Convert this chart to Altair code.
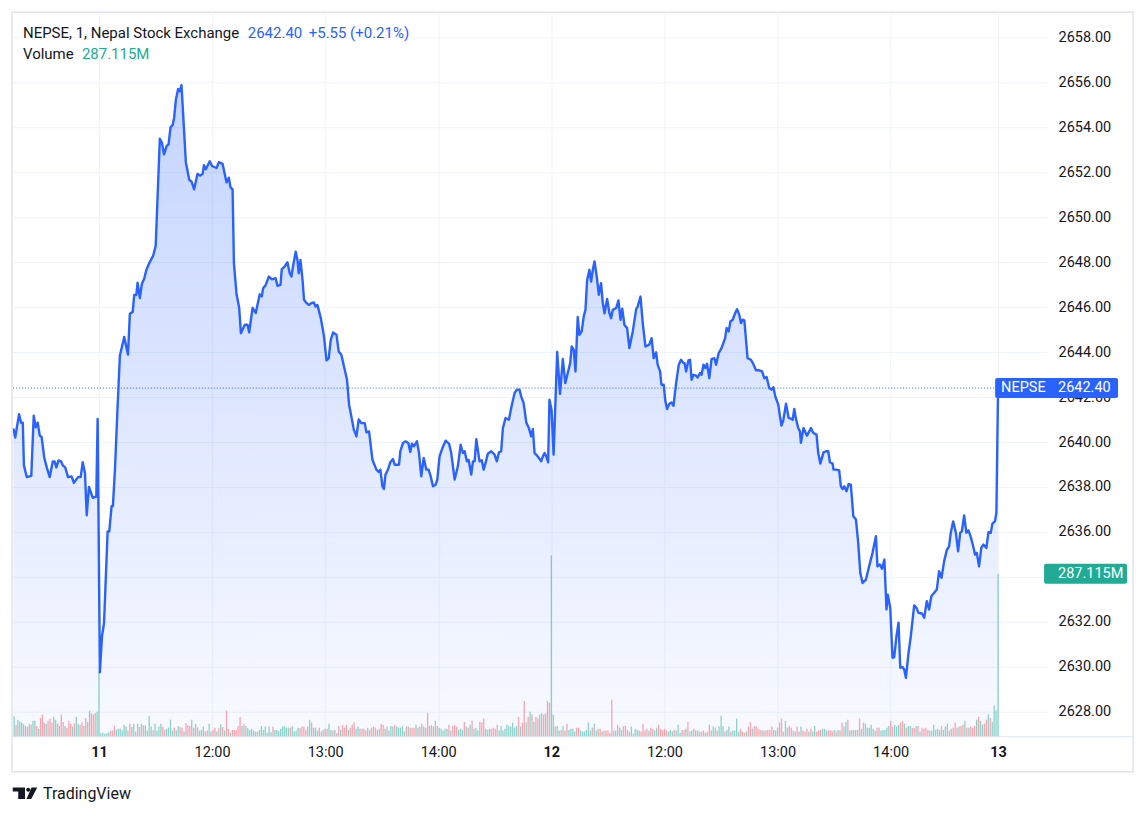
import altair as alt
import pandas as pd
import numpy as np

# ---------------- price line (session minutes from 11:00 on day 11; day 12 opens at 240) ----------------
seg1_t = [-45.4,-44.4,-42.4,-41.3,-40.4,-39.8,-38.3,-35.9,-34.6,-33.5,-32.5,-31.4,-30.4,-29.0,-27.7,-26.1,-24.5,-23.5,-22.6,-21.4,
          -20.0,-19.2,-17.9,-16.4,-14.5,-13.3,-11.1,-9.7,-8.6,-7.4,-6.5,-5.3,-3.3,-1.4,-0.7,0.5,1.6,2.7,4.6,5.5,
          6.7,7.4,8.5,9.7,11.1,13.4,15.4,16.4,17.9,18.7,19.8,20.5,21.7,22.8,24.0,25.1,26.7,28.8,30.1,32.3,
          33.4,34.5,36.0,36.9,38.0,39.1,39.9,40.8,42.0,42.9,43.8,44.7,46.1,47.9,49.1,50.5,52.3,53.7,55.0,55.7,
          56.7,58.8,60.0,62.4,63.6,65.6,67.7,68.9,69.8,70.9,71.6,73.0,74.4,75.3,77.4,78.8,79.7,81.5,83.2,85.3,86.4]
seg1_p = [2640.60,2640.20,2641.24,2640.86,2640.86,2638.96,2638.44,2638.49,2641.17,2640.65,2640.86,2640.29,2640.22,2639.30,2638.87,2638.44,2639.13,2639.13,2638.87,2639.18,
          2639.13,2638.96,2638.87,2638.44,2638.47,2638.18,2638.44,2638.44,2639.10,2638.61,2636.74,2638.00,2637.52,2637.57,2641.03,2629.76,2631.35,2631.96,2636.02,2636.02,
          2637.15,2637.15,2638.79,2641.21,2643.84,2644.67,2643.89,2645.71,2645.79,2646.54,2646.54,2647.09,2646.40,2647.04,2647.26,2647.64,2647.96,2648.30,2648.73,2653.49,
          2653.32,2652.80,2653.18,2653.23,2654.01,2654.10,2654.44,2655.22,2655.71,2655.60,2655.88,2654.53,2652.45,2651.67,2651.59,2651.24,2651.93,2651.85,2651.93,2652.31,
          2652.14,2652.49,2652.28,2652.19,2652.45,2652.37,2651.55,2651.76,2651.33,2651.24,2647.96,2646.57,2645.97,2644.84,2645.22,2645.22,2644.88,2645.97,2645.74,2646.57,2646.48]

seg2_t = [87.1,88.5,90.1,91.8,93.7,94.7,96.3,97.0,98.6,100.0,101.2,102.1,103.0,104.4,105.3,106.0,106.9,108.0,108.8,110.1,
          111.5,112.7,114.0,114.9,115.9,117.7,119.4,120.7,121.9,123.0,124.2,126.0,127.2,128.6,130.4,131.6,132.7,133.9,135.2,136.6,
          137.8,139.2,141.0,141.9,143.3,145.1,147.2,148.4,149.3,150.4,151.2,152.0,153.3,154.6,156.0,156.9,158.1,159.2,159.9,161.3,
          162.7,164.1,165.2,166.0,167.1,168.7,169.8,171.0,172.3,173.7,174.9,176.0,177.2,178.6,179.5,180.7,182.2,183.9,185.7,186.9,
          188.7,190.4,191.9,193.1,194.0,195.2,196.1,197.5,198.4,199.3,200.2,201.9,203.1,204.1,205.1,206.3,208.1,209.9,211.1,212.2,
          213.4,214.3,215.7,217.5,218.7,220.5,221.7,223.1,224.0,225.3,226.7,228.1,229.3,230.2,231.1,232.8,234.6,235.5,236.4,237.3,
          238.3,239.0,240.1,241.2,243.1,244.6]
seg2_p = [2646.84,2646.99,2647.36,2647.24,2647.29,2646.95,2646.99,2647.69,2647.81,2648.00,2647.51,2647.36,2647.84,2648.47,2648.10,2647.51,2648.10,2647.21,2646.33,2646.18,
          2646.10,2646.18,2646.21,2646.03,2646.10,2645.51,2644.70,2643.63,2643.73,2644.55,2644.87,2644.77,2644.03,2643.88,2643.21,2642.77,2641.66,2641.14,2640.55,2640.25,
          2641.00,2640.84,2640.84,2640.43,2640.47,2639.21,2638.77,2638.67,2638.77,2638.03,2637.91,2638.55,2638.77,2639.10,2639.24,2638.99,2638.99,2638.99,2639.59,2639.96,
          2640.03,2639.96,2639.56,2639.93,2639.81,2640.03,2639.51,2638.47,2639.29,2638.77,2638.77,2638.47,2638.03,2638.10,2638.33,2639.36,2639.73,2640.06,2639.93,2639.51,
          2638.33,2638.92,2639.88,2639.51,2639.59,2639.14,2639.21,2638.55,2639.14,2639.14,2640.13,2639.14,2639.19,2638.77,2639.07,2639.48,2639.59,2639.44,2639.14,2639.54,
          2639.59,2640.62,2641.07,2640.99,2641.51,2642.18,2642.33,2642.33,2642.03,2641.73,2640.87,2640.62,2640.25,2640.58,2639.51,2639.36,2639.14,2639.36,2639.51,2639.36,
          2639.10,2641.88,2641.44,2639.44,2644.01,2642.14]

seg3_t = [246.1,247.4,248.7,250.0,250.8,251.9,252.8,254.0,254.9,256.1,257.2,258.1,259.0,260.2,261.1,262.0,262.9,264.1,265.2,266.4,
          267.3,268.2,269.6,270.8,271.7,272.6,274.4,275.6,276.7,277.6,278.8,280.2,281.4,283.2,285.0,285.8,287.3,288.5,289.9,292.0,
          293.2,294.3,295.6,296.4,297.7,298.4,299.6,300.5,301.4,302.6,303.7,304.8,306.2,307.6,308.8,310.1,310.7,311.5,312.7,313.6,
          314.4,315.4,316.8,317.6,318.9,319.7,320.7,321.7,322.6,323.8,325.0,326.5,327.4,328.8,330.3,332.2,333.0,334.1,335.0,336.2,
          337.5,338.5,339.7,340.6,341.5,342.4,344.1,345.9,347.3,348.6,350.3]
seg3_p = [2643.69,2642.62,2643.07,2643.51,2644.25,2644.10,2643.14,2645.56,2644.77,2644.92,2645.59,2645.88,2647.21,2647.66,2647.14,2647.66,2648.03,2647.36,2646.55,2647.07,
          2646.18,2645.73,2646.36,2645.73,2645.51,2645.88,2645.96,2646.30,2645.44,2645.93,2645.21,2645.07,2644.18,2644.92,2645.91,2646.03,2646.47,2645.29,2644.25,2644.33,
          2644.62,2643.73,2643.99,2643.44,2643.14,2642.55,2642.55,2641.81,2641.47,2641.70,2641.76,2641.61,2642.62,2643.44,2643.66,2643.51,2643.51,2643.14,2643.63,2643.66,
          2642.77,2642.99,2642.95,2642.87,2643.07,2642.99,2643.44,2643.29,2643.48,2642.84,2643.69,2643.73,2643.44,2643.96,2644.18,2644.62,2645.07,2644.92,2645.36,2645.44,
          2645.73,2645.91,2645.66,2645.29,2645.44,2645.41,2643.73,2643.66,2643.44,2643.19,2643.19]

seg4_t = [351.8,353.0,354.2,355.6,356.8,357.8,358.8,360.4,361.3,362.1,363.1,364.5,365.9,367.1,368.0,368.9,369.8,371.0,371.9,372.4,
          373.8,375.6,377.7,379.0,380.7,381.6,382.7,384.4,385.7,386.9,387.8,389.2,389.7,391.0,392.7,393.6,394.5,395.4,396.6,397.7,
          398.9,400.2,401.6,402.8,403.9,405.1,406.9,408.6,410.4,412.2,413.0,414.3,415.4,416.7,417.8,418.5,419.8,421.0,421.9,423.1,
          424.2,425.1,426.3,427.2,428.1,429.5,430.7,432.5,433.7,434.8,436.6,437.8,439.2,440.4,441.6,443.1,444.5,445.7,447.0,448.4,
          449.8,451.0,451.9,453.2,454.6,455.8,456.9,457.8,459.0,460.2,461.3,462.5,463.8,464.8,465.7,466.9,468.1,469.2,470.8,471.9,
          473.1,474.0,475.3,476.1,477.0]
seg4_p = [2643.14,2642.84,2642.89,2642.40,2642.33,2642.44,2642.03,2641.66,2641.14,2640.73,2640.99,2641.70,2641.07,2641.04,2640.99,2641.47,2641.02,2640.62,2640.47,2639.96,
          2640.62,2640.28,2640.62,2640.40,2640.33,2639.51,2639.04,2639.54,2639.59,2639.59,2639.10,2639.04,2638.77,2638.77,2638.74,2638.03,2637.91,2638.03,2637.81,2638.13,
          2638.10,2636.70,2636.55,2635.51,2634.18,2633.73,2633.88,2634.47,2635.07,2635.81,2634.47,2634.55,2634.36,2634.77,2632.55,2633.21,2632.62,2630.40,2630.43,2631.36,
          2631.96,2629.96,2629.99,2629.88,2629.51,2630.62,2631.36,2632.73,2632.62,2632.40,2632.37,2632.18,2632.92,2632.55,2633.14,2633.29,2633.44,2634.25,2633.96,2634.70,
          2635.19,2635.36,2635.96,2636.47,2635.96,2635.14,2635.96,2636.03,2636.73,2635.96,2636.07,2635.78,2635.36,2634.99,2635.07,2634.47,2635.29,2635.44,2635.29,2635.99,
          2635.96,2636.37,2636.47,2636.84,2642.40]

# ---------------- volume (millions), one bar per traded minute ----------------
vol_a = [36,21,30,27,25,22,19,18,22,21, 28,28,19,14,33,39,25,23,28,32, 25,35,30,23,19,39,26,19,16,28,
         23,18,24,35,22,21,25,19,33,26, 46,41,39,42,44,115,6,7,5,6, 8,10,11,19,12,14,14,11,21,18,
         11,23,17,23,9,23,17,23,20,20, 11,37,18,12,23,11,18,23,18,12, 14,16,30,11,16,11,19,17,16,9,
         24,20,19,30,16,23,16,11,12,18, 9,11,23,9,12,16,9,15,22,17, 11,46,14,7,12,12,12,19,35,19,
         23,19,15,12,14,11,9,9,12,19, 12,18,7,18,8,18,12,12,10,14, 18,19,16,16,16,19,9,11,16,15,
         18,18,12,18,30,25,16,16,11,16, 9,12,14,14,23,12,11,12,6,19,12]
col_a = ("GRGGGGRRGR" "GGRGRRRGRR" "RGGRGRRGRR" "RGRGGRRGRR" "GRRRGGGGGG" "GRRRGGGGGG"
         "RRGGRGRGRG" "GGGRGGGGRR" "GGGGRGGRRG" "RRRGRGRGGG" "RRGGRRGRGR" "GRRGRRRRRG"
         "RGGGGGRRGG" "GGGGGRGGGG" "GGGGRGGGGR" "RRRGGRGGGR" "RGRRGGRGRRG")
vol_b = [21,16,21,12,16,21,25,14,18,14, 14,14,11,16,12,16,18,16,12,14, 23,21,14,18,11,19,18,21,18,16,
         16,19,9,18,18,16,16,16,21,16, 18,23,18,16,42,19,21,18,28,19, 16,14,11,14,14,21,11,19,21,18,
         12,14,12,26,18,16,21,28,14,16, 11,26,25,32,14,12,14,14,16,14, 21,11,19,11,14,21,19,18,25,16,
         19,35,18,25,63,25,35,44,39,26, 35,32,39,42,39,41,63,60,320,39, 18,19,11,12,19,11,23,12,14,14,
         9,16,16,11,9,9,12,25,11,16, 23,11,14,14,9,11,11,11,7,65, 11,11,21,16,12,19,19,12,9,18,
         5,14,12,11,9,23,11,14,11,16, 14,11,16,21,14,12,14,11,9,12,9]
col_b = ("RRRGRRRGGR" "RRRGRRRRRG" "RRGRGGGRGG" "GGGRGRRRGR" "GRGRRGRRGR" "GGGGGRGRRR"
         "GGGRGRGRGG" "GRRRGGGRRR" "RGGGGGGGGG" "GRGRRGRGRG" "RRGRRGRRGG" "RGGRGRRGGG"
         "GRRGGGGGGR" "GGRRGRRRRR" "GGRGGRRRRG" "GGGGRRRRGR" "RGGRRRRRGGG")
vol_c = [12,11,21,7,12,12,14,26,9,11, 14,11,11,9,9,11,7,9,21,11, 18,16,11,18,37,19,9,12,18,9,
         11,11,32,9,14,9,7,9,18,26, 14,18,19,14,12,11,11,11,12,12, 18,12,11,16,25,32,9,28,16,19,
         16,11,9,18,9,18,11,9,14,9, 14,9,19,9,11,12,14,14,11,11, 12,9,12,9,12,11,25,18,26,30,
         11,12,12,12,12,32,14,25,23,16, 16,21,14,11,16,16,11,12,12,16, 19,28,18,21,18,21,25,28,23,16,
         19,19,16,16,19,19,9,16,14,16, 12,11,11,21,12,14,12,19,12,18, 23,11,14,16,25,16,18,19,21,28,
         16,16,18,16,19,30,35,28,21,23, 30,39,33,26,55,46,287.115]
col_c = ("RGGGRRGRGG" "RGGRRRGRRR" "GGRGGGRGGR" "GGGGRRRGRR" "GRRRRGRRRR" "RGGRRRRGGR"
         "RRGRRGRRRG" "RGGRRRGGGR" "RRGRGRRGGR" "GGRGRRGRGG" "GGGGRRGGGG" "GRRGGGRRGR"
         "GGRRGRGRRR" "RGGGGGGRGG" "GRGRRRGRRG" "RGRRRGRGGR" "RGRGGGG")

# session anchors: first bar, day-11 open, day-12 open, day-13 open (bar index -> session minute)
anchor_bar = [0, 45, 279, 508]
anchor_min = [-45, 0, 240, 477]

# axis ticks
x_tick_pos = [0, 60, 120, 180, 240, 300, 360, 420, 477]
x_tick_lab = ["11", "12:00", "13:00", "14:00", "12", "12:00", "13:00", "14:00", "13"]
x_bold_pos = [0, 240, 477]
y_ticks = [2628, 2630, 2632, 2634, 2636, 2638, 2640, 2642, 2644, 2646, 2648, 2650, 2652, 2654, 2656, 2658]

last_price = 2642.40
change = 5.55
change_pct = 0.21
last_volume = 287.115

# ---------------- build tables ----------------
t_all = seg1_t + seg2_t + seg3_t + seg4_t
p_all = seg1_p + seg2_p + seg3_p + seg4_p
n = min(len(t_all), len(p_all))
price_df = pd.DataFrame({"t": t_all[:n], "price": p_all[:n]})

vols = vol_a + vol_b + vol_c
cols = (col_a + col_b + col_c + "G" * len(vols))[:len(vols)]
bar_t = np.interp(np.arange(len(vols)), anchor_bar, anchor_min)
vol_df = pd.DataFrame({"t": bar_t, "vol": vols,
                       "dir": ["up" if c == "G" else "down" for c in cols]})

one = pd.DataFrame({"price": [last_price], "vol": [last_volume]})

BLUE = "#2962ff"
GREEN = "#22ab94"
RED = "#f7525f"
TXT = "#131722"
GRID = "#f0f3fa"
FONT = "Roboto"

y_min, y_max = 2626.89, 2659.07
x_scale = alt.Scale(domain=[-45.6, 503.0], nice=False, zero=False, padding=0)
y_scale = alt.Scale(domain=[y_min, y_max], nice=False, zero=False, padding=0)
v_scale = alt.Scale(domain=[0, 1275.3], nice=False, zero=True, padding=0)

label_expr = "[" + ",".join(f"'{s}'" for s in x_tick_lab) + "][indexof([" + \
    ",".join(str(v) for v in x_tick_pos) + "], datum.value)]"
bold_test = "indexof([" + ",".join(str(v) for v in x_bold_pos) + "], datum.value) >= 0"

x_axis = alt.Axis(values=x_tick_pos, labelExpr=label_expr, grid=True, gridColor=GRID,
                  gridWidth=1, ticks=False, domain=False, labelFont=FONT, labelFontSize=14.5,
                  labelColor=TXT, labelPadding=9, labelOverlap=False, labelFlush=False,
                  labelFontWeight={"condition": {"test": bold_test, "value": "bold"}, "value": "normal"},
                  title=None)
y_axis = alt.Axis(orient="right", values=y_ticks, format=".2f", grid=True, gridColor=GRID,
                  gridWidth=1, ticks=False, domain=False, labelFont=FONT, labelFontSize=14.5,
                  labelColor=TXT, labelPadding=11, title=None)

X = alt.X("t:Q", scale=x_scale, axis=x_axis)

area = alt.Chart(price_df).mark_area(
    color=alt.Gradient(gradient="linear",
                       stops=[alt.GradientStop(color="rgba(41,98,255,0.03)", offset=0),
                              alt.GradientStop(color="rgba(41,98,255,0.27)", offset=1)],
                       x1=1, x2=1, y1=1, y2=0)
).encode(x=X, y=alt.Y("price:Q", scale=y_scale, axis=None), y2=alt.datum(y_min))

volume = alt.Chart(vol_df).mark_bar(width=1.3, opacity=0.5).encode(
    x=X,
    y=alt.Y("vol:Q", scale=v_scale, axis=None),
    color=alt.Color("dir:N", scale=alt.Scale(domain=["up", "down"], range=[GREEN, RED]), legend=None),
)

line = alt.Chart(price_df).mark_line(color=BLUE, strokeWidth=2.4, strokeJoin="round").encode(
    x=X, y=alt.Y("price:Q", scale=y_scale, axis=y_axis))

price_rule = alt.Chart(one).mark_rule(color=BLUE, strokeDash=[1, 2], strokeWidth=1).encode(
    y=alt.Y("price:Q", scale=y_scale, axis=None), x=alt.value(0), x2=alt.value(983))

price_box = alt.Chart(one).mark_rect(color=BLUE, cornerRadius=2, yOffset=-10, y2Offset=10).encode(
    y=alt.Y("price:Q", scale=y_scale, axis=None), y2="price:Q", x=alt.value(983), x2=alt.value(1106))
price_name = alt.Chart(one).mark_text(color="white", align="left", baseline="middle", font=FONT,
                                      fontSize=14.5, text="NEPSE").encode(
    y=alt.Y("price:Q", scale=y_scale, axis=None), x=alt.value(989))
price_val = alt.Chart(one).mark_text(color="white", align="left", baseline="middle", font=FONT,
                                     fontSize=14.5).encode(
    y=alt.Y("price:Q", scale=y_scale, axis=None), x=alt.value(1046), text=alt.Text("price:Q", format=".2f"))

vol_box = alt.Chart(one).mark_rect(color=GREEN, cornerRadius=2, yOffset=-10, y2Offset=10).encode(
    y=alt.Y("vol:Q", scale=v_scale, axis=None), y2="vol:Q", x=alt.value(1032), x2=alt.value(1115))
vol_val = alt.Chart(one).mark_text(color="white", align="left", baseline="middle", font=FONT,
                                   fontSize=14.5, text=f"{last_volume:.3f}M").encode(
    y=alt.Y("vol:Q", scale=v_scale, axis=None), x=alt.value(1046))


def label(txt, x, y, color, size=15, weight="normal"):
    return alt.Chart(one).mark_text(text=txt, align="left", baseline="alphabetic", font=FONT,
                                    fontSize=size, fontWeight=weight, color=color).encode(
        x=alt.value(x), y=alt.value(y))


h1 = label("NEPSE, 1, Nepal Stock Exchange", 10, 24.5, TXT)
h2 = label(f"{last_price:.2f}", 235, 24.5, BLUE)
h3 = label(f"+{change:.2f} (+{change_pct:.2f}%)", 296, 24.5, BLUE)
h4 = label("Volume", 10, 46, TXT)
h5 = label(f"{last_volume:.3f}M", 69, 46, GREEN)
brand = label("TradingView", 30, 786, TXT, size=16)

logo_path = ("M -0.98 -0.46 L 0 -0.46 L 0 0.46 L -0.54 0.46 L -0.54 -0.14 L -0.98 -0.14 Z "
             "M 0.10 -0.28 A 0.16 0.16 0 1 0 0.42 -0.28 A 0.16 0.16 0 1 0 0.10 -0.28 Z "
             "M 0.52 -0.46 L 0.98 -0.46 L 0.50 0.46 L 0.12 0.46 Z")
logo = alt.Chart(one).mark_point(shape=logo_path, size=625, filled=True, color=TXT,
                                 opacity=1, strokeWidth=0).encode(x=alt.value(12), y=alt.value(780.5))

border = alt.Chart(one).mark_rect(fillOpacity=0, stroke="#e0e3eb", strokeWidth=1.5).encode(
    x=alt.value(-1), x2=alt.value(1121), y=alt.value(-1), y2=alt.value(759))
sep = alt.Chart(one).mark_rule(color="#e0e3eb", strokeWidth=1).encode(
    x=alt.value(-1), x2=alt.value(1121), y=alt.value(724))

chart = alt.layer(
    area, volume, line, price_rule, price_box, price_name, price_val, vol_box, vol_val,
    h1, h2, h3, h4, h5, sep, border, logo, brand
).resolve_scale(y="independent").properties(
    width=1035, height=724,
    padding={"left": 3, "top": 3, "right": 5, "bottom": 5},
    background="white",
).configure_view(stroke=None)

chart.save("out.html", embed_options={"renderer": "svg", "actions": False})
